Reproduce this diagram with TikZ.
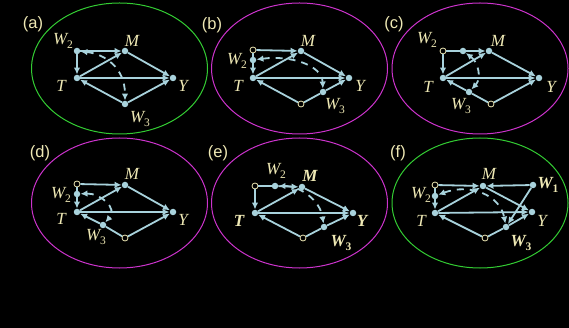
\documentclass[tikz,border=0pt]{standalone}
\usepackage{fontspec}
\setmainfont{Liberation Serif}
\newfontfamily\lblfont{Liberation Sans}
\usetikzlibrary{arrows.meta}
\definecolor{cream}{HTML}{EEE8B4}
\definecolor{edgec}{HTML}{A8D2DC}
\definecolor{greenc}{HTML}{33CC33}
\definecolor{pinkc}{HTML}{CC33CC}
\newcommand{\Wv}[1]{\textit{W}\raisebox{-0.45ex}{\fontsize{11.5}{11.5}\selectfont\upshape #1}}
\newcommand{\Wb}[1]{\textbf{\textit{W}\raisebox{-0.45ex}{\fontsize{11.5}{11.5}\selectfont\upshape #1}}}
\begin{document}
\begin{tikzpicture}[x=1pt,y=-1pt,
 dotn/.style={circle,fill=edgec,inner sep=0,minimum size=6.5pt},
 holn/.style={circle,draw=cream,fill=black,line width=0.8pt,inner sep=0,minimum size=6pt},
 edge/.style={draw=edgec,line width=1.8pt},
 arr/.style={edge,-{Latex[length=7pt,width=6.5pt]}},
 dsh/.style={draw=edgec,line width=1.8pt,dash pattern=on 7pt off 6pt,{Latex[length=7pt,width=6.5pt]}-{Latex[length=7pt,width=6.5pt]}},
 lab/.style={text=cream,font=\fontsize{17}{17}\selectfont\itshape,inner sep=0},
 blab/.style={lab,font=\fontsize{17}{17}\selectfont\bfseries\itshape},
 plab/.style={text=cream,font=\lblfont\fontsize{16.5}{16.5}\selectfont,inner sep=0},
 ell/.style={line width=1pt}]
\fill[black] (0,0) rectangle (569,328);
\useasboundingbox (0,0) rectangle (569,328);

% ellipses
\draw[greenc,ell] (119.5,68.5) ellipse [x radius=88pt, y radius=65.5pt];
\draw[pinkc,ell] (299.5,68.5) ellipse [x radius=88pt, y radius=65.5pt];
\draw[pinkc,ell] (480,68.5) ellipse [x radius=88pt, y radius=65.5pt];
\draw[pinkc,ell] (119.5,203) ellipse [x radius=88pt, y radius=65pt];
\draw[pinkc,ell] (299.5,203) ellipse [x radius=88pt, y radius=65pt];
\draw[greenc,ell] (480,203) ellipse [x radius=88pt, y radius=65pt];

% panel labels
\node[plab] (pa) at (33,24) {(a)};
\node[plab] (pb) at (212,25) {(b)};
\node[plab] (pc) at (394,24) {(c)};
\node[plab] (pd) at (40,153) {(d)};
\node[plab] (pe) at (218,153) {(e)};
\node[plab] (pf) at (398,153) {(f)};

% ---------------- (a)
\node[dotn] (aW2) at (77,51) {};
\node[dotn] (aM) at (125,51) {};
\node[dotn] (aT) at (77,78) {};
\node[dotn] (aY) at (173,78) {};
\node[dotn] (aW3) at (125,104) {};
\draw[arr] (aW2) -- (aM);
\draw[arr] (aW2) -- (aT);
\draw[arr] (aT) -- (aM);
\draw[arr] (aM) -- (aY);
\draw[arr] (aT) -- (aY);
\draw[arr] (aW3) -- (aT);
\draw[arr] (aW3) -- (aY);
\draw[dsh] (aW2) .. controls (105,54) and (125,68) .. (aW3);
\node[lab] (laW2) at (63,41) {\Wv{2}};
\node[lab] (laM) at (132,41) {M};
\node[lab] (laT) at (61,86) {T};
\node[lab] (laY) at (183,86) {Y};
\node[lab] (laW3) at (140,119) {\Wv{3}};

% ---------------- (b)
\node[holn] (bU) at (253,50) {};
\node[dotn] (bW2) at (253,60) {};
\node[dotn] (bM) at (301,51) {};
\node[dotn] (bT) at (253,78) {};
\node[dotn] (bY) at (349,78) {};
\node[holn] (bB) at (301,104) {};
\node[dotn] (bW3) at (323,92) {};
\draw[arr] (bU) -- (bM);
\draw[edge] (bU) -- (bW2);
\draw[arr] (bW2) -- (bT);
\draw[arr] (bT) -- (bM);
\draw[arr] (bM) -- (bY);
\draw[arr] (bT) -- (bY);
\draw[arr] (bB) -- (bT);
\draw[edge] (bB) -- (bW3);
\draw[arr] (bW3) -- (bY);
\draw[dsh] (bW2) .. controls (290,55) and (322,65) .. (bW3);
\node[lab] (lbW2) at (237,61) {\Wv{2}};
\node[lab] (lbM) at (308,41) {M};
\node[lab] (lbT) at (238,86) {T};
\node[lab] (lbY) at (360,86) {Y};
\node[lab] (lbW3) at (335,106) {\Wv{3}};

% ---------------- (c)
\node[holn] (cU) at (443,51) {};
\node[dotn] (cW2) at (463,51) {};
\node[dotn] (cM) at (489,51) {};
\node[dotn] (cT) at (443,78) {};
\node[dotn] (cY) at (539,78) {};
\node[holn] (cB) at (491,104) {};
\node[dotn] (cW3) at (469,92) {};
\draw[edge] (cU) -- (cW2);
\draw[arr] (cW2) -- (cM);
\draw[arr] (cU) -- (cT);
\draw[arr] (cT) -- (cM);
\draw[arr] (cM) -- (cY);
\draw[arr] (cT) -- (cY);
\draw[edge] (cB) -- (cW3);
\draw[arr] (cW3) -- (cT);
\draw[arr] (cB) -- (cY);
\draw[dsh] (cW2) .. controls (478,62) and (482,78) .. (cW3);
\node[lab] (lcW2) at (427,40) {\Wv{2}};
\node[lab] (lcM) at (498,41) {M};
\node[lab] (lcT) at (428,87) {T};
\node[lab] (lcY) at (551,87) {Y};
\node[lab] (lcW3) at (461,106) {\Wv{3}};

% ---------------- (d)
\node[holn] (dU) at (77,184) {};
\node[dotn] (dW2) at (77,194) {};
\node[dotn] (dM) at (125,185) {};
\node[dotn] (dT) at (77,212) {};
\node[dotn] (dY) at (173,212) {};
\node[holn] (dB) at (125,238) {};
\node[dotn] (dW3) at (103,225) {};
\draw[arr] (dU) -- (dM);
\draw[edge] (dU) -- (dW2);
\draw[arr] (dW2) -- (dT);
\draw[arr] (dT) -- (dM);
\draw[arr] (dM) -- (dY);
\draw[arr] (dT) -- (dY);
\draw[edge] (dB) -- (dW3);
\draw[arr] (dW3) -- (dT);
\draw[arr] (dB) -- (dY);
\draw[dsh] (dW2) .. controls (100,193) and (118,208) .. (dW3);
\node[lab] (ldW2) at (61,195) {\Wv{2}};
\node[lab] (ldM) at (132,174) {M};
\node[lab] (ldT) at (61,219) {T};
\node[lab] (ldY) at (183,220) {Y};
\node[lab] (ldW3) at (96,237) {\Wv{3}};

% ---------------- (e)
\node[holn] (eU) at (255,186) {};
\node[dotn] (eW2) at (275,186) {};
\node[dotn] (eM) at (302,187) {};
\node[dotn] (eT) at (255,213) {};
\node[dotn] (eY) at (353,213) {};
\node[holn] (eB) at (303,238) {};
\node[dotn] (eW3) at (324,227) {};
\draw[edge] (eU) -- (eW2);
\draw[arr] (eW2) -- (eM);
\draw[arr] (eU) -- (eT);
\draw[arr] (eT) -- (eM);
\draw[arr] (eM) -- (eY);
\draw[arr] (eT) -- (eY);
\draw[arr] (eB) -- (eT);
\draw[edge] (eB) -- (eW3);
\draw[arr] (eW3) -- (eY);
\draw[dsh] (eW2) .. controls (300,186) and (320,200) .. (eW3);
\node[lab] (leW2) at (276,171) {\Wv{2}};
\node[blab] (leM) at (310,176) {M};
\node[blab] (leT) at (239,221) {T};
\node[blab] (leY) at (362,221) {Y};
\node[lab] (leW3) at (341,243) {\Wb{3}};

% ---------------- (f)
\node[holn] (fU) at (435,185) {};
\node[dotn] (fW2) at (435,196) {};
\node[dotn] (fM) at (483,186) {};
\node[dotn] (fW1) at (533,185) {};
\node[dotn] (fT) at (435,213) {};
\node[dotn] (fY) at (532,212) {};
\node[holn] (fB) at (485,238) {};
\node[dotn] (fW3) at (506,227) {};
\draw[arr] (fU) -- (fM);
\draw[edge] (fU) -- (fW2);
\draw[arr] (fW2) -- (fT);
\draw[arr] (fW1) -- (fM);
\draw[arr] (fW1) -- (fW3);
\draw[arr] (fT) -- (fM);
\draw[arr] (fM) -- (fY);
\draw[arr] (fT) -- (fY);
\draw[arr] (fB) -- (fT);
\draw[edge] (fB) -- (fW3);
\draw[arr] (fW3) -- (fY);
\draw[dsh] (fW2) .. controls (470,183) and (500,195) .. (fW3);
\node[lab] (lfW2) at (421,195) {\Wv{2}};
\node[lab] (lfM) at (489,174) {M};
\node[lab] (lfW1) at (548,185) {\Wb{1}};
\node[lab] (lfT) at (421,221) {T};
\node[lab] (lfY) at (542,221) {Y};
\node[lab] (lfW3) at (521,243) {\Wb{3}};
\end{tikzpicture}
\end{document}
